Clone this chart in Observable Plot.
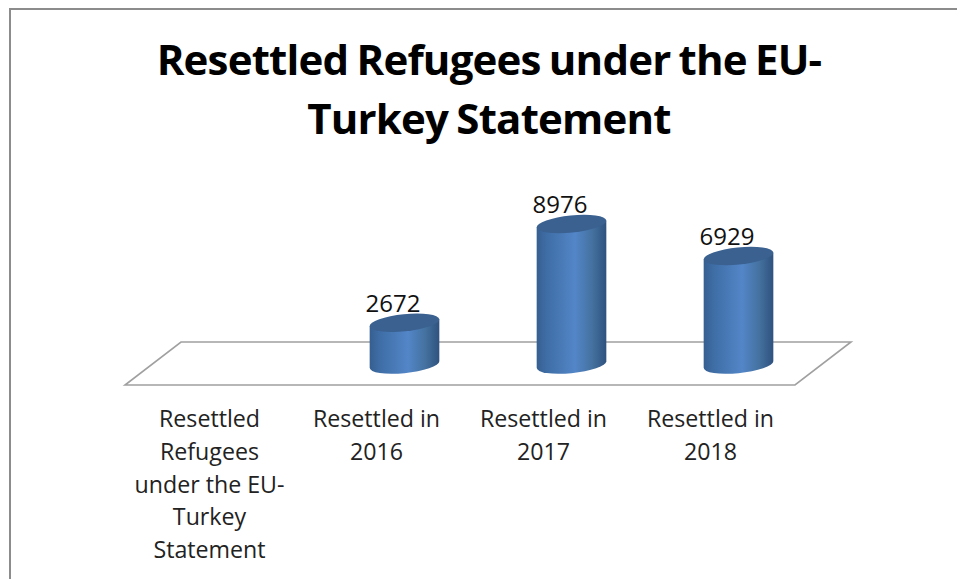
<!DOCTYPE html>
<html>
<head>
<meta charset="utf-8">
<script src="https://cdn.jsdelivr.net/npm/d3@7"></script>
<script src="https://cdn.jsdelivr.net/npm/@observablehq/plot@0.6"></script>
<style>
  html, body { margin: 0; padding: 0; background: #fff; overflow: hidden; }
  #frame { position: absolute; left: 9px; top: 8px; width: 1000px; height: 640px; border: 2px solid #8c8c8c; box-sizing: border-box; }
  #title { position: absolute; left: 10.5px; top: 29px; width: 957px; text-align: center; font: 700 42px/59px "Open Sans", sans-serif; color: #000; letter-spacing: -0.8px; word-spacing: -2px; }
  #chart { position: absolute; left: 0; top: 150px; }
</style>
</head>
<body>
<div id="frame"></div>
<div id="title">Resettled Refugees under the EU-<br>Turkey Statement</div>
<div id="chart"></div>
<script>
const categories = [
  "Resettled\nRefugees\nunder the EU-\nTurkey\nStatement",
  "Resettled in\n2016",
  "Resettled in\n2017",
  "Resettled in\n2018"
];
const resettled = [null, 2672, 8976, 6929];
const rows = categories.map((category, i) => ({category, value: resettled[i]}));
const bars = rows.filter((d) => d.value != null);

// The cylinders stand halfway back on the floor, so they sit right of their category.
const depthShift = 28;
const capRx = 35;
const capRy = 8.6;
const capTilt = -5.8;

// Horizontal half-width of the tilted ellipse, and how far its side points sit off centre.
const tiltRad = capTilt * Math.PI / 180;
const halfWidth = Math.hypot(capRx * Math.cos(tiltRad), capRy * Math.sin(tiltRad));
const sideDrop = (capRx * capRx - capRy * capRy) * Math.sin(-tiltRad) * Math.cos(tiltRad) / halfWidth;

function shadeDefs() {
  const defs = document.createElementNS("http://www.w3.org/2000/svg", "defs");
  defs.innerHTML = `<linearGradient id="cylinderShade" x1="0" x2="1" y1="0" y2="0">
    <stop offset="0" stop-color="#365f91"/>
    <stop offset="0.15" stop-color="#3f6ea6"/>
    <stop offset="0.55" stop-color="#5386c8"/>
    <stop offset="0.8" stop-color="#44719f"/>
    <stop offset="1" stop-color="#2f527f"/>
  </linearGradient>`;
  return defs;
}

// One cylinder per value: a shaded body with a rounded foot, and a darker top cap.
function cylinders(index, scales) {
  const g = d3.create("svg:g").attr("aria-label", "cylinder");
  for (const d of bars) {
    const cx = scales.x(d.category) + scales.x.bandwidth() / 2 + depthShift;
    const foot = scales.y(0);
    const top = scales.y(d.value);
    const left = cx - halfWidth;
    const right = cx + halfWidth;
    g.append("path")
      .attr("fill", "url(#cylinderShade)")
      .attr("d", `M${left},${foot + sideDrop}L${left},${top + sideDrop}L${right},${top - sideDrop}L${right},${foot - sideDrop}`
        + `A${capRx},${capRy} ${capTilt} 0 1 ${left},${foot + sideDrop}Z`);
    g.append("ellipse")
      .attr("rx", capRx)
      .attr("ry", capRy)
      .attr("fill", "#3a6190")
      .attr("transform", `translate(${cx},${top}) rotate(${capTilt})`);
  }
  return g.node();
}

// Slanted floor plane running under all the categories.
function floor(index, scales) {
  const [x0, x1] = scales.x.range();
  const y0 = scales.y(0);
  const outline = [[x0, y0 + 20.5], [x1, y0 + 20.5], [x1 + 56, y0 - 22.5], [x0 + 56, y0 - 22.5]];
  return d3.create("svg:path")
    .attr("d", d3.line()(outline) + "Z")
    .attr("fill", "#fff")
    .attr("stroke", "#a0a0a0")
    .attr("stroke-width", 1.6)
    .node();
}

const chart = Plot.plot({
  width: 957,
  height: 429,
  marginLeft: 0,
  marginRight: 0,
  marginTop: 0,
  marginBottom: 175.5,
  x: {type: "band", domain: categories, range: [125, 795], padding: 0, label: null},
  y: {domain: [0, 10000], range: [214.5, 58], axis: null},
  style: {background: "transparent", overflow: "visible"},
  marks: [
    shadeDefs,
    floor,
    cylinders,
    Plot.text(bars, {
      x: "category", y: "value", text: (d) => String(d.value),
      dx: 16, dy: -19, fontSize: 24, fill: "#111", fontFamily: "Open Sans"
    }),
    Plot.axisX({
      tickSize: 0, tickPadding: 0, label: null, fontSize: 23.2, fill: "#222",
      lineHeight: 1.41, fontFamily: "Open Sans", lineAnchor: "top", dx: -0.5
    })
  ]
});
document.getElementById("chart").append(chart);
</script>
</body>
</html>
